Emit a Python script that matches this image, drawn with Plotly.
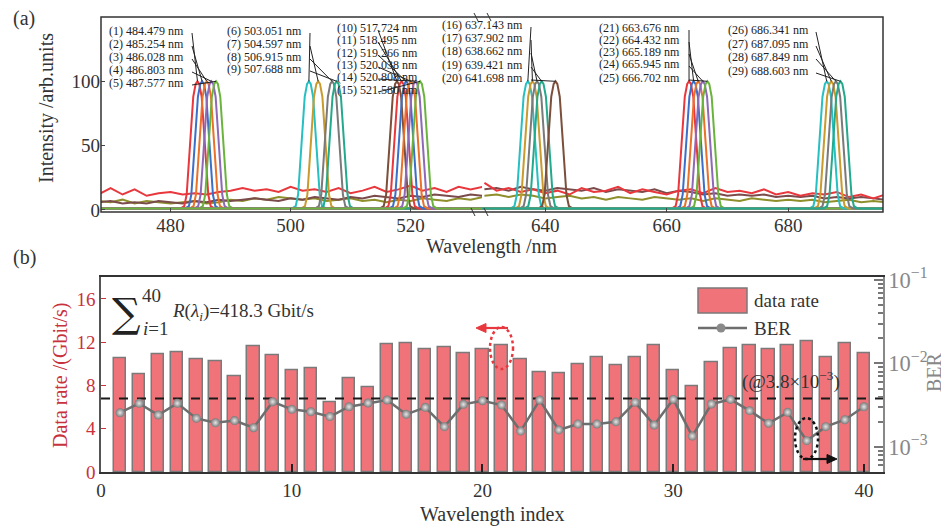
import plotly.graph_objects as go

# ---------------- data ----------------
label_wl = [484.479, 485.254, 486.028, 486.803, 487.577,
            503.051, 504.597, 506.915, 507.688,
            517.724, 518.495, 519.266, 520.038, 520.808, 521.580,
            637.143, 637.902, 638.662, 639.421, 641.698,
            663.676, 664.432, 665.189, 665.945, 666.702,
            686.341, 687.095, 687.849, 688.603]
label_group = [0]*5 + [1]*4 + [2]*6 + [3]*5 + [4]*5 + [5]*4

# shared peak profile (offset nm, intensity)
prof_dx = [-2.8, -2.2, -1.8, -1.25, -0.7, -0.3, 0.0, 0.3, 0.7, 1.25, 1.8, 2.2, 2.8]
prof_y = [1.2, 3, 12, 50, 88, 98, 100, 98, 88, 50, 12, 3, 1.2]
baseline = 1.2

# noisy background spectra
noise_x_left = [468, 470, 472, 474, 476, 478, 480, 482, 484, 486, 488, 490, 492, 494, 496, 498, 500,
                502, 504, 506, 508, 510, 512, 514, 516, 518, 520, 522, 524, 526, 528, 530, 532]
noise_x_right = [630, 632, 634, 636, 638, 640, 642, 644, 646, 648, 650, 652, 654, 656, 658, 660, 662,
                 664, 666, 668, 670, 672, 674, 676, 678, 680, 682, 684, 686, 688, 690, 692, 694, 696]
red_left = [12, 17, 12, 16, 11, 13, 14, 12, 13, 12, 14, 15, 17, 15, 16, 14, 18, 15, 16, 14, 17, 13, 15,
            18, 14, 16, 19, 15, 17, 14, 18, 16, 18]
brown_left = [6, 7, 5, 6, 5, 7, 6, 5, 7, 6, 8, 7, 8, 9, 8, 7, 9, 8, 10, 9, 8, 10, 9, 11, 10, 9, 11, 10,
              12, 11, 10, 12, 11]
olive_left = [7, 6, 8, 5, 7, 6, 5, 6, 7, 5, 6, 8, 7, 9, 8, 10, 9, 8, 9, 7, 8, 9, 7, 8, 6, 8, 7, 9, 8, 7,
              9, 8, 10]
red_right = [21, 15, 17, 14, 16, 13, 15, 12, 17, 14, 15, 18, 13, 16, 14, 12, 15, 16, 13, 17, 14, 15, 13,
             16, 12, 14, 11, 13, 12, 14, 10, 12, 9, 12]
brown_right = [16, 17, 15, 18, 16, 15, 17, 16, 15, 17, 14, 16, 15, 14, 16, 13, 15, 14, 12, 13, 11, 12, 11,
               12, 10, 11, 10, 11, 9, 10, 9, 10, 9, 8]
olive_right = [11, 12, 10, 12, 11, 9, 10, 11, 9, 10, 8, 10, 9, 8, 10, 9, 8, 9, 7, 9, 8, 7, 9, 8, 7, 8, 7,
               8, 6, 7, 8, 6, 7, 6]

# bottom panel
wl_index = list(range(1, 41))
data_rate = [10.5, 9.04, 10.9, 11.1, 10.4, 10.25, 8.85, 11.6, 10.8, 9.4,
             9.6, 6.4, 8.7, 7.8, 11.8, 11.9, 11.3, 11.55, 11.0, 11.3,
             11.7, 10.4, 9.2, 9.1, 10.0, 10.6, 9.9, 10.65, 11.7, 9.4,
             7.9, 10.15, 11.4, 11.7, 11.3, 11.75, 12.1, 10.65, 11.9, 10.95]
ber = [2.57e-3, 3.33e-3, 2.41e-3, 3.33e-3, 2.2e-3, 1.95e-3, 2.07e-3, 1.70e-3, 3.48e-3, 2.82e-3,
       2.64e-3, 2.31e-3, 3.03e-3, 3.36e-3, 3.65e-3, 2.46e-3, 2.98e-3, 1.75e-3, 3.24e-3, 3.58e-3,
       3.18e-3, 1.55e-3, 3.65e-3, 1.6e-3, 1.88e-3, 1.88e-3, 2.0e-3, 3.42e-3, 1.83e-3, 3.71e-3,
       1.35e-3, 3.27e-3, 3.71e-3, 2.72e-3, 1.92e-3, 2.6e-3, 1.19e-3, 1.75e-3, 2.12e-3, 3.03e-3]
ber_limit = 3.8e-3
total_rate_text = "418.3"

# ---------------- layout geometry (absolute page pixels) ----------------
FONT = "Liberation Serif"
OFF = 8                      # default page body margin
W_FIG, H_FIG = 949 - OFF, 527 - OFF
L, R, T, B = 101, 883, 17, 472
PW, PH = R - L, B - T


def pxx(px):
    return (px - L) / PW


def pyy(py):
    return (B - py) / PH


x_break = pxx(482)
top_dom = [pyy(212), 1.0]
bot_dom = [0.0, pyy(277.3)]
xl_rng = [468.4, 531.9]
xr_rng = [629.6, 695.6]
ytop_rng = [-1.6, 150]

palette = ['#E8383D', '#3C6FC8', '#E8722A', '#8D69B8', '#6AB43E', '#26BFC2',
           '#C99A2E', '#7A7A7A', '#23A98C', '#7B4F3A']

fig = go.Figure()

# noise spectra
for xs, ys, col, ax in [(noise_x_left, olive_left, '#8E8E2A', 'x'), (noise_x_left, brown_left, '#7B4A4A', 'x'),
                        (noise_x_left, red_left, '#E8383D', 'x'),
                        (noise_x_right, olive_right, '#8E8E2A', 'x2'), (noise_x_right, brown_right, '#7B4A4A', 'x2'),
                        (noise_x_right, red_right, '#E8383D', 'x2')]:
    fig.add_trace(go.Scatter(x=xs, y=ys, mode='lines', line=dict(color=col, width=2),
                             xaxis=ax, yaxis='y', showlegend=False, hoverinfo='skip'))

# peaks
for i, wl in enumerate(label_wl):
    left = wl < 600
    rng = xl_rng if left else xr_rng
    xs = [rng[0]] + [wl + d for d in prof_dx] + [rng[1]]
    ys = [baseline] + prof_y + [baseline]
    fig.add_trace(go.Scatter(x=xs, y=ys, mode='lines', line=dict(color=palette[i % len(palette)], width=2),
                             xaxis='x' if left else 'x2', yaxis='y', showlegend=False,
                             name=f"({i+1}) {wl:.3f} nm"))

# bottom: bars, threshold, BER
fig.add_trace(go.Bar(x=wl_index, y=data_rate, width=0.65, name='data rate',
                     marker=dict(color='#F0737A', line=dict(color='#7A7A7A', width=1.5)),
                     xaxis='x3', yaxis='y3', showlegend=False))
fig.add_trace(go.Scatter(x=[0, 41], y=[ber_limit, ber_limit], mode='lines',
                         line=dict(color='#1A1A1A', width=2, dash='dash'),
                         xaxis='x3', yaxis='y4', showlegend=False, hoverinfo='skip'))
fig.add_trace(go.Scatter(x=wl_index, y=ber, mode='lines+markers', name='BER',
                         line=dict(color='#6E6E6E', width=2.5),
                         marker=dict(size=9, color='#7A7A7A',
                                     gradient=dict(type='radial', color='#E6E6E6')),
                         xaxis='x3', yaxis='y4', showlegend=False))

tickf = dict(family=FONT, size=19, color='#333')
fig.update_layout(
    width=W_FIG, height=H_FIG,
    margin=dict(l=L - OFF, r=W_FIG - (R - OFF), t=T - OFF, b=H_FIG - (B - OFF), autoexpand=False),
    paper_bgcolor='white', plot_bgcolor='white', showlegend=False,
    font=dict(family=FONT, size=19, color='#333'),
    bargap=0,
    xaxis=dict(domain=[0, x_break], anchor='y', range=xl_rng, tickvals=[480, 500, 520], automargin=False,
               ticks='inside', ticklen=4, tickfont=tickf, showgrid=False, zeroline=False, showline=False),
    xaxis2=dict(domain=[x_break, 1], anchor='y', range=xr_rng, tickvals=[640, 660, 680], automargin=False,
                ticks='inside', ticklen=4, tickfont=tickf, showgrid=False, zeroline=False, showline=False),
    yaxis=dict(domain=top_dom, anchor='x', range=ytop_rng, tickvals=[0, 50, 100], automargin=False,
               ticks='inside', ticklen=4, tickfont=tickf, showgrid=False, zeroline=False, showline=False),
    xaxis3=dict(domain=[0, 1], anchor='y3', range=[0, 41], tickvals=[0, 10, 20, 30, 40], automargin=False,
                ticks='inside', ticklen=8, tickcolor='#222', tickwidth=1.5, tickfont=tickf,
                showgrid=False, zeroline=False, showline=True, linecolor='#333', linewidth=1.5, mirror=True),
    yaxis3=dict(domain=bot_dom, anchor='x3', range=[0, 18], tickvals=[0, 4, 8, 12, 16], automargin=False,
                ticks='inside', ticklen=5, tickcolor='#C8323C',
                tickfont=dict(family=FONT, size=19, color='#C8323C'),
                showgrid=False, zeroline=False, showline=True, linecolor='#555', linewidth=1.5),
    yaxis4=dict(type='log', overlaying='y3', side='right', anchor='x3', range=[-3.3, -0.968],
                dtick=1, exponentformat='power', showexponent='all', automargin=False,
                ticks='inside', ticklen=9, tickcolor='#777', tickwidth=1.5,
                minor=dict(ticks='inside', ticklen=5, tickcolor='#777', dtick='D1'),
                tickfont=dict(family=FONT, size=18, color='#888'),
                showgrid=False, zeroline=False, showline=True, linecolor='#888', linewidth=1.5),
)

shapes = []


def pline(x0, y0, x1, y1, color='#222', width=1.0):
    shapes.append(dict(type='line', xref='paper', yref='paper', x0=pxx(x0), y0=pyy(y0),
                       x1=pxx(x1), y1=pyy(y1), line=dict(color=color, width=width)))


def ptri(pts, color):
    path = 'M ' + ' L '.join(f"{pxx(a):.5f},{pyy(b):.5f}" for a, b in pts) + ' Z'
    shapes.append(dict(type='path', xref='paper', yref='paper', path=path, fillcolor=color,
                       line=dict(color=color, width=1)))


# frame of top panel
shapes.append(dict(type='rect', xref='paper', yref='paper', x0=0, x1=1, y0=top_dom[0], y1=1,
                   line=dict(color='#333', width=1.5)))
# axis-break marks
for bx in (476, 489):
    pline(bx - 2, 13, bx + 2, 21, '#333', 1)
    pline(bx - 5, 208, bx - 1, 216, '#333', 1)
# dotted ellipses
shapes.append(dict(type='circle', xref='paper', yref='paper', x0=pxx(490), x1=pxx(513),
                   y0=pyy(369), y1=pyy(327), line=dict(color='#E8383D', width=2.5, dash='dot')))
shapes.append(dict(type='circle', xref='paper', yref='paper', x0=pxx(795), x1=pxx(818),
                   y0=pyy(459), y1=pyy(418), line=dict(color='#111', width=2.5, dash='dot')))
# arrows
pline(508, 328, 484, 328, '#E8383D', 2.2)
ptri([(476, 328), (486, 323.5), (486, 332.5)], '#E8383D')
pline(803, 459, 828, 459, '#111', 2.2)
ptri([(837, 459), (827, 454.5), (827, 463.5)], '#111')
# manual legend
shapes.append(dict(type='rect', xref='paper', yref='paper', x0=pxx(698), x1=pxx(747),
                   y0=pyy(313), y1=pyy(288), fillcolor='#F0737A', line=dict(color='#7A7A7A', width=1.5)))
pline(698, 328, 747, 328, '#6E6E6E', 2.5)
shapes.append(dict(type='circle', xref='paper', yref='paper', x0=pxx(716.5), x1=pxx(725.5),
                   y0=pyy(332.5), y1=pyy(323.5), fillcolor='#8A8A8A', line=dict(color='#8A8A8A', width=0)))

ann = []


def text(px, py, s, size=19, color='#333', xanchor='center', angle=0, family=FONT):
    ann.append(dict(xref='paper', yref='paper', x=pxx(px), y=pyy(py), text=s, showarrow=False,
                    xanchor=xanchor, yanchor='middle', textangle=angle,
                    font=dict(family=family, size=size, color=color)))


# panel tags and axis titles
text(24, 19, '(a)', size=20)
text(24, 257, '(b)', size=20)
text(47, 108, 'Intensity /arb.units', size=20, angle=-90)
text(492, 246, 'Wavelength /nm', size=20)
text(492, 514, 'Wavelength index', size=20)
text(60, 375, 'Data rate /(Gbit/s)', size=20, color='#C8323C', angle=-90)
text(934, 372, 'BER', size=20, color='#888', angle=-90)

# sum formula
text(126, 313, '∑', size=40, family='DejaVu Serif', color='#222')
text(151, 295, '40', size=19)
text(156, 328, '<i>i</i>=1', size=19)
text(170, 312, '<i>R</i>(<i>λ</i><sub><i>i</i></sub>)=' + total_rate_text + ' Gbit/s', size=19, xanchor='left')

# legend texts and threshold note
text(752, 300, 'data rate', size=19, xanchor='left')
text(752, 328, 'BER', size=19, xanchor='left')
text(740, 380, '(@3.8×10<sup>−3</sup>)', size=19, xanchor='left')

# wavelength labels with leader lines
grp_left = [107, 225, 335, 440, 597, 726]
grp_tail = [192, 310, 378, 531, 689, 816]
lab_y = [31, 44, 57, 70, 83, 31, 44, 57, 69, 28, 40, 53, 65, 77, 90,
         25, 38, 51, 65, 78, 28, 40, 52, 64, 78, 30, 44, 57, 71]
top_px_bottom = 212


def head_px(wl):
    if wl < 600:
        hx = L + (wl - xl_rng[0]) / (xl_rng[1] - xl_rng[0]) * x_break * PW
    else:
        hx = L + x_break * PW + (wl - xr_rng[0]) / (xr_rng[1] - xr_rng[0]) * (1 - x_break) * PW
    hy = top_px_bottom - (100 - ytop_rng[0]) / (ytop_rng[1] - ytop_rng[0]) * (top_px_bottom - T)
    return hx, hy


for i, wl in enumerate(label_wl):
    g = label_group[i]
    text(grp_left[g], lab_y[i], f"({i+1}) {wl:.3f} nm", size=12, xanchor='left', color='#222')
    hx, hy = head_px(wl)
    pline(grp_tail[g], lab_y[i] + 2, hx, hy, '#222', 1)

fig.update_layout(shapes=shapes, annotations=ann)
fig.write_html("out.html")
